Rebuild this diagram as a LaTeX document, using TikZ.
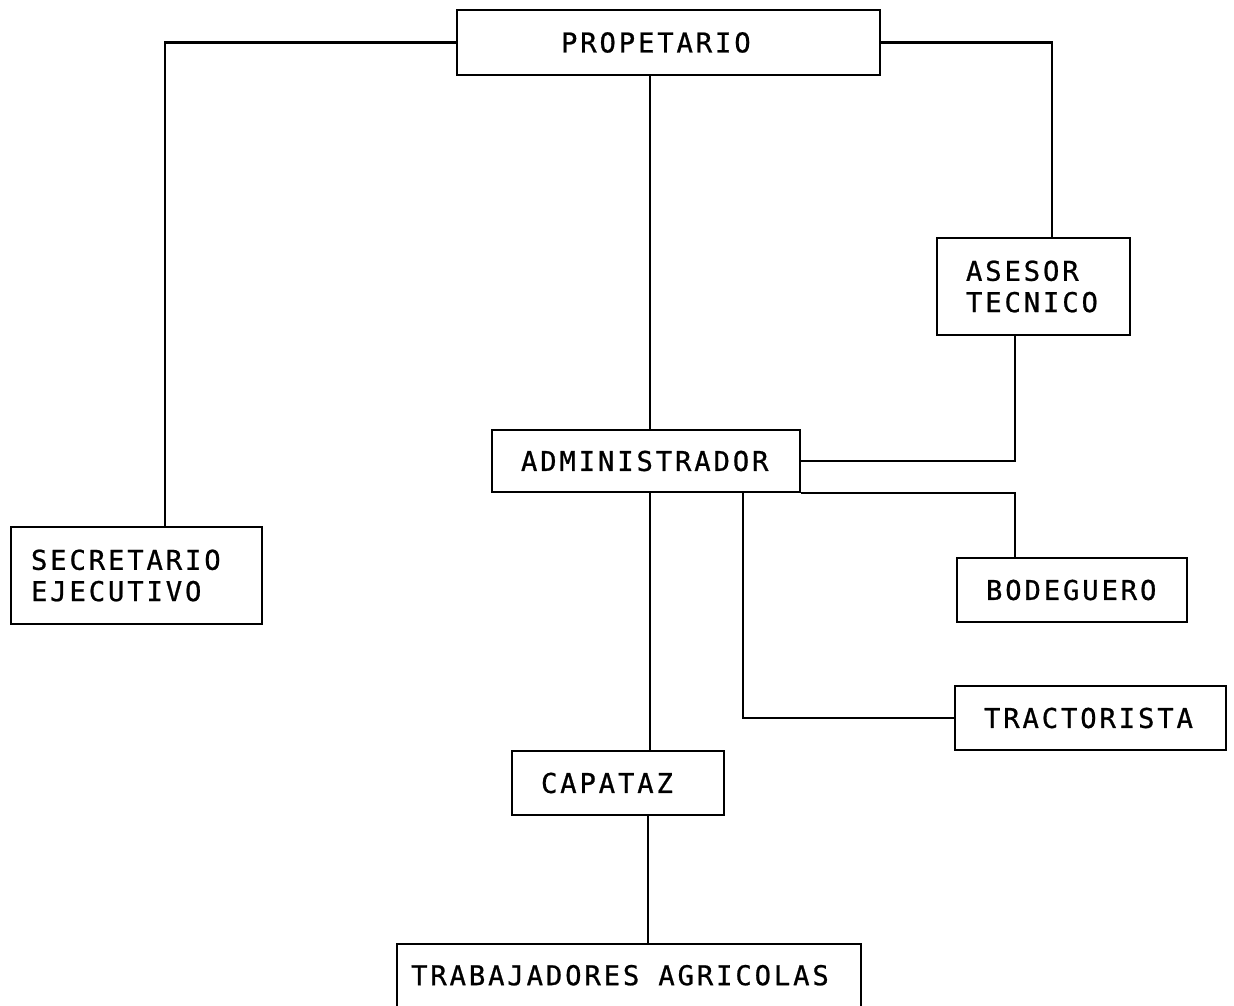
\documentclass[tikz,border=0pt]{standalone}
\usepackage{fontspec}
\newfontfamily\chartfont[LetterSpace=10.5, FakeBold=0.8]{DejaVu Sans Mono}
\usepackage{tikz}
\usetikzlibrary{positioning, calc}

\begin{document}
\begin{tikzpicture}[
  box/.style = {
    rectangle, draw=black, line width=1.3pt,
    inner xsep=0.58cm, inner ysep=0pt, align=left,
    minimum height=1.28cm,
    font=\chartfont\fontsize{15.5}{17.8}\selectfont
  },
  tallbox/.style = {box, minimum height=1.94cm},
  conn/.style    = {line width=1.3pt, black}
]

\useasboundingbox (0,0) rectangle (24.68,-20.12);
\clip (0,0) rectangle (24.68,-20.12);

%% ---- top level ----
\node[box, inner xsep=2.08cm, text width=4.30cm, minimum height=1.30cm] (prop) at (13.37,-0.85) {PROPETARIO};
\node[tallbox, text width=2.70cm] (asesor) at (20.67,-5.73) {ASESOR\\TECNICO};

%% ---- middle level ----
\node[box, text width=5.00cm, minimum height=1.24cm] (admin) at (12.92,-9.22) {ADMINISTRADOR};
\node[tallbox, inner xsep=0.40cm, text width=4.22cm] (secre) at (2.73,-11.51) {SECRETARIO\\EJECUTIVO};
\node[box, text width=3.44cm] (bodeg) at (21.44,-11.80) {BODEGUERO};
\node[box, text width=4.26cm] (tract) at (21.81,-14.36) {TRACTORISTA};

%% ---- field level ----
\node[box, text width=3.08cm] (capat) at (12.36,-15.66) {CAPATAZ};
\node[box, anchor=north west, inner xsep=0.28cm, text width=8.72cm, inner ysep=0.40cm,
      text height=0.42cm, text depth=1.6cm] (trab) at (7.92,-18.86) {TRABAJADORES\hspace{0.38cm}AGRICOLAS};

%% ---- connectors ----
\draw[conn] (prop.west) -| ([xshift=0.57cm]secre.north);
\draw[conn] (prop.east) -| ([xshift=0.37cm]asesor.north);
\draw[conn] ([xshift=0.08cm]admin.north) -- ([xshift=0.08cm]admin.north |- prop.south);
\draw[conn] ([xshift=-0.37cm]asesor.south) |- (admin.east);
\draw[conn] (admin.south east) -| ([xshift=-1.14cm]bodeg.north);
\draw[conn] ([xshift=1.94cm]admin.south) |- (tract.west);
\draw[conn] ([xshift=0.64cm]capat.north) -- ([xshift=0.64cm]capat.north |- admin.south);
\draw[conn] ([xshift=0.60cm]capat.south) -- ([xshift=0.60cm]capat.south |- trab.north);

\end{tikzpicture}
\end{document}
